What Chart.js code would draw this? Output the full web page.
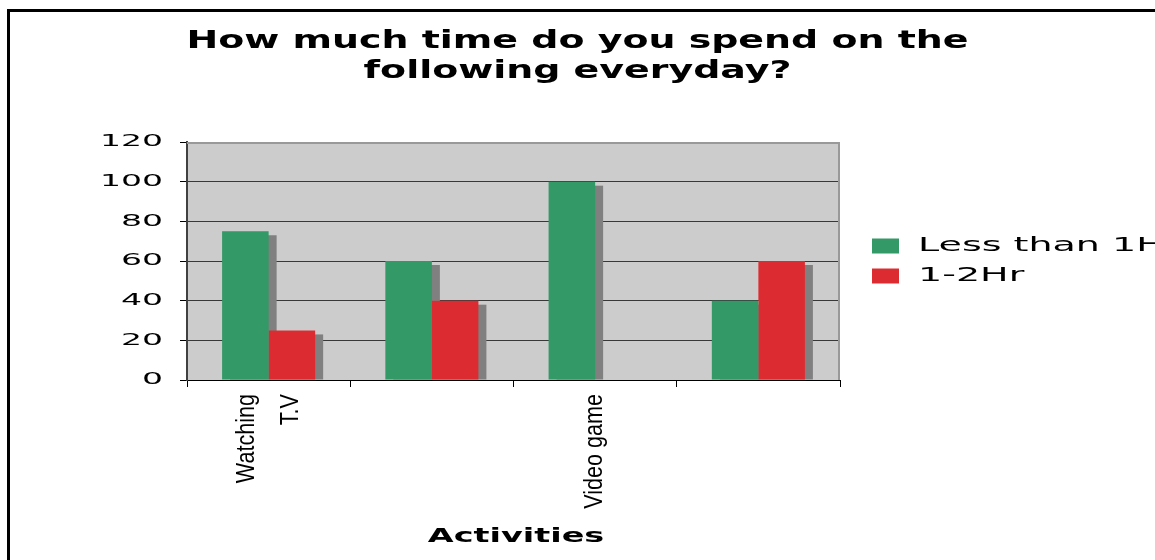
<!DOCTYPE html>
<html>
<head>
<meta charset="utf-8">
<title>Time spent everyday</title>
<script src="https://cdn.jsdelivr.net/npm/chart.js@4"></script>
<style>
  html, body { margin: 0; padding: 0; background: #fff; overflow: hidden; }
  #wrap { position: relative; width: 1155px; height: 560px; overflow: hidden; }
  #frame {
    position: absolute; left: 7px; top: 9px; width: 1300px; height: 700px;
    border-left: 3px solid #000; border-top: 3px solid #000; pointer-events: none;
  }
</style>
</head>
<body>
<div id="wrap">
  <canvas id="chart" width="1155" height="560"></canvas>
  <div id="frame"></div>
</div>
<script>
// chart data
const chartTitle = ['How much time do you spend on the', 'following everyday?'];
const axisTitle = 'Activities';
const activities = [['Watching', 'T.V'], '', 'Video game', ''];
const seriesNames = ['Less than 1Hr', '1-2Hr'];
const lessThan1Hr = [75, 60, 100, 40];
const oneTo2Hr = [25, 40, 0, 60];
const yTicks = [0, 20, 40, 60, 80, 100, 120];

// layout numbers (pixels)
const plotLeft = 187;
const plotBottom = 380;
const legendWidth = 315;
const tickLen = 7;
const shadowDx = 8, shadowDy = 4;

// the original text is stretched sideways, so redraw it through a scaled context
function stretched(obj, method, sx, pivot, shift) {
  const orig = obj[method];
  obj[method] = function (...args) {
    const ctx = this.ctx;
    const p = pivot(this);
    ctx.save();
    ctx.translate(p + shift, 0);
    ctx.scale(sx, 1);
    ctx.translate(-p, 0);
    orig.apply(this, args);
    ctx.restore();
  };
}

const excelLook = {
  id: 'excelLook',
  beforeLayout(chart) {
    const lg = chart.legend;
    if (lg && !lg.$fixed) {
      const fit = lg.fit;
      lg.fit = function () { fit.call(this); this.width = legendWidth; };
      lg.$fixed = true;
    }
  },
  beforeDraw(chart) {
    const {ctx, chartArea: a} = chart;
    ctx.save();
    ctx.fillStyle = '#cccccc';
    ctx.fillRect(a.left, a.top, a.right - a.left, a.bottom - a.top);
    ctx.restore();

    if (chart.$stretched) return;
    chart.$stretched = true;
    const x = chart.scales.x, y = chart.scales.y;

    stretched(chart.titleBlock, 'draw', 1.58, b => (b.left + b.right) / 2, 0);
    stretched(chart.legend, 'draw', 2.0, b => b.left + b.options.labels.padding, 21);
    stretched(y, 'drawLabels', 2.0, s => s.right - tickLen - s.options.ticks.padding, 0);
    stretched(x, 'drawTitle', 1.76, s => (s.left + s.right) / 2, 2.5);

    // rotated category labels: centre two-line labels on the tick, squeeze along the text
    const drawXLabels = x.drawLabels;
    x.drawLabels = function (area) {
      this.getLabelItems(area).forEach(item => {
        if (Array.isArray(item.label) && !item.$centred) {
          item.options.translation[0] -= (item.label.length - 1) * item.font.lineHeight / 2;
          item.$centred = true;
        }
      });
      const ctx = this.ctx;
      const y0 = this.top + tickLen + this.options.ticks.padding;
      ctx.save();
      ctx.translate(0, y0);
      ctx.scale(1, 0.83);
      ctx.translate(0, -y0);
      drawXLabels.call(this, area);
      ctx.restore();
    };
  },
  beforeDatasetsDraw(chart) {
    const {ctx, chartArea: a} = chart;
    ctx.save();
    // grey frame on top and right of the plot
    ctx.strokeStyle = '#999999';
    ctx.lineWidth = 2;
    ctx.beginPath();
    ctx.moveTo(a.left, a.top + 1);
    ctx.lineTo(a.right - 1, a.top + 1);
    ctx.lineTo(a.right - 1, a.bottom);
    ctx.stroke();
    // bar shadows
    ctx.fillStyle = '#808080';
    chart.getSortedVisibleDatasetMetas().forEach(meta => {
      meta.data.forEach(bar => {
        const p = bar.getProps(['x', 'y', 'base', 'width'], true);
        if (p.base - p.y < shadowDy + 1) return;
        ctx.fillRect(p.x - p.width / 2 + shadowDx, p.y + shadowDy, p.width, p.base - p.y - shadowDy);
      });
    });
    ctx.restore();
  }
};

new Chart(document.getElementById('chart'), {
  type: 'bar',
  data: {
    labels: activities,
    datasets: [{
      label: seriesNames[0],
      data: lessThan1Hr,
      backgroundColor: '#339966',
      borderWidth: 0
    }, {
      label: seriesNames[1],
      data: oneTo2Hr,
      backgroundColor: '#dd2c31',
      borderWidth: 0
    }]
  },
  options: {
    responsive: false,
    devicePixelRatio: 1,
    animation: false,
    events: [],
    layout: { padding: 0 },
    datasets: {
      bar: { categoryPercentage: 0.57, barPercentage: 1.0 }
    },
    plugins: {
      title: {
        display: true,
        text: chartTitle,
        color: '#000',
        font: { family: 'DejaVu Sans', size: 24, weight: 'bold', lineHeight: 1.25 },
        padding: { top: 27, bottom: 55 }
      },
      legend: {
        position: 'right',
        fullSize: false,
        labels: {
          color: '#000',
          font: { family: 'DejaVu Sans', size: 19 },
          boxWidth: 13.5,
          boxHeight: 15,
          padding: 11
        }
      },
      tooltip: { enabled: false }
    },
    scales: {
      x: {
        grid: { display: true, drawOnChartArea: false, drawTicks: true, tickLength: tickLen, color: '#000' },
        border: { display: true, color: '#000', width: 1 },
        ticks: {
          color: '#000',
          autoSkip: false,
          minRotation: 90,
          maxRotation: 90,
          padding: 7,
          font: { family: 'Liberation Sans', size: 26, lineHeight: 1.7 }
        },
        title: {
          display: true,
          text: axisTitle,
          color: '#000',
          font: { family: 'DejaVu Sans', size: 19, weight: 'bold' },
          padding: { top: 0, bottom: 12 }
        },
        afterFit(scale) { scale.height = 560 - plotBottom; }
      },
      y: {
        min: yTicks[0],
        max: yTicks[yTicks.length - 1],
        grid: {
          color: c => (c.tick && c.tick.value === yTicks[yTicks.length - 1]) ? '#999999' : '#383838',
          tickColor: '#000',
          tickLength: tickLen
        },
        border: { display: true, color: '#404040', width: 2 },
        ticks: {
          stepSize: yTicks[1] - yTicks[0],
          color: '#000',
          padding: 17,
          font: { family: 'DejaVu Sans', size: 16.5 }
        },
        afterFit(scale) { scale.width = plotLeft; }
      }
    }
  },
  plugins: [excelLook]
});
</script>
</body>
</html>
